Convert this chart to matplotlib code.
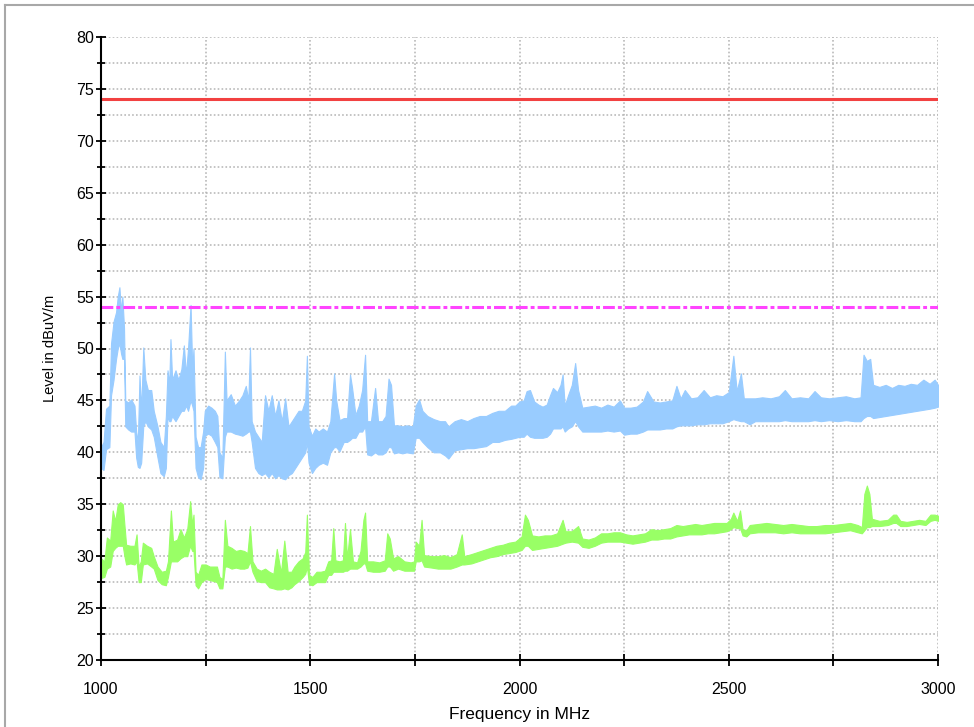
import matplotlib
matplotlib.use('Agg')
import matplotlib.pyplot as plt
from matplotlib.lines import Line2D
from matplotlib.ticker import MultipleLocator
import numpy as np

plt.rcParams['font.family'] = ['Liberation Sans', 'DejaVu Sans']
plt.rcParams['lines.scale_dashes'] = False

BLUE = '#99ccff'
GREEN = '#99ff66'
RED = '#f24141'
MAGENTA = '#ff44ff'
GRID = '#b4b4b4'

# limits (dBuV/m)
limit_peak = 74.0
limit_avg = 54.0

# peak trace, read as lower / upper envelope of the noisy band
peak_freq = [
    1000, 1006, 1012, 1020, 1024, 1030, 1036, 1040, 1044, 1048, 1051, 1055, 1058, 1065, 1072,
    1080, 1084, 1088, 1092, 1096, 1101, 1106, 1112, 1120, 1126, 1135, 1142, 1150, 1155, 1159,
    1163, 1166, 1170, 1178, 1185, 1192, 1198, 1203, 1208, 1214, 1218, 1221, 1226, 1232, 1238,
    1244, 1248, 1256, 1264, 1272, 1278, 1283, 1290, 1296, 1300, 1310, 1320, 1330, 1338, 1346,
    1352, 1356, 1360, 1368, 1376, 1384, 1392, 1400, 1408, 1416, 1424, 1432, 1440, 1448, 1456,
    1464, 1472, 1480, 1488, 1492, 1496, 1504, 1512, 1520, 1530, 1540, 1548, 1557, 1562, 1570,
    1580, 1588, 1595, 1600, 1608, 1616, 1624, 1631, 1636, 1645, 1655, 1662, 1672, 1680, 1687,
    1693, 1700, 1710, 1720, 1730, 1745, 1752, 1760, 1768, 1780, 1795, 1810, 1822, 1830, 1845,
    1860, 1875, 1890, 1905, 1920, 1935, 1950, 1965, 1980, 1990, 2000, 2010, 2017, 2025, 2035,
    2045, 2055, 2065, 2073, 2080, 2090, 2098, 2103, 2108, 2116, 2125, 2133, 2140, 2150, 2165,
    2180, 2195, 2210, 2225, 2240, 2250, 2265, 2280, 2295, 2305, 2320, 2335, 2350, 2365, 2375,
    2385, 2395, 2410, 2425, 2440, 2455, 2470, 2485, 2500, 2511, 2519, 2529, 2536, 2550, 2563,
    2580, 2600, 2620, 2634, 2650, 2670, 2690, 2705, 2720, 2740, 2760, 2780, 2800, 2815, 2822,
    2830, 2838, 2845, 2860, 2875, 2890, 2905, 2920, 2935, 2950, 2965, 2980, 2992, 3000]
peak_lo = [
    38.5, 38.3, 40.3, 40.5, 45.5, 47.0, 49.0, 50.0, 50.5, 49.5, 49.0, 49.0, 42.5, 42.2, 42.0,
    42.0, 39.5, 38.6, 38.5, 39.0, 42.5, 43.0, 42.5, 42.2, 41.5, 39.5, 38.0, 37.7, 38.5, 43.5,
    43.0, 43.0, 43.5, 43.0, 43.5, 44.0, 44.0, 44.5, 44.0, 45.0, 44.5, 44.0, 38.5, 37.6, 37.4,
    38.5, 41.6, 41.8, 41.6, 41.0, 40.5, 37.6, 37.5, 41.5, 42.0, 42.0, 41.8, 41.7, 41.6, 41.8,
    42.0, 42.0, 41.0, 38.5, 38.0, 37.8, 38.0, 37.6, 38.0, 37.5, 37.8, 37.5, 37.4, 37.8, 38.0,
    38.5, 39.0, 39.5, 40.0, 41.0, 39.0, 38.0, 38.5, 38.8, 39.0, 38.8, 40.0, 40.5, 40.5, 40.1,
    41.0, 41.0, 41.2, 41.4, 41.4, 42.0, 42.0, 42.5, 39.8, 39.7, 40.0, 39.8, 39.8, 40.0, 40.5,
    40.5, 39.9, 40.0, 39.9, 40.0, 39.9, 41.4, 41.4, 41.0, 40.5, 40.0, 40.0, 39.7, 39.4, 40.2,
    40.3, 40.4, 40.4, 40.5, 40.6, 41.0, 41.0, 41.2, 41.3, 41.4, 41.5, 41.5, 41.8, 41.5, 41.4,
    41.4, 41.4, 41.5, 41.8, 42.3, 42.3, 42.3, 42.5, 42.0, 42.3, 42.5, 43.0, 42.5, 42.0, 42.0,
    42.0, 42.0, 42.1, 42.0, 42.1, 41.7, 41.8, 41.8, 42.0, 42.2, 42.2, 42.2, 42.3, 42.3, 42.5,
    42.6, 42.6, 42.6, 42.7, 42.7, 42.8, 42.8, 42.8, 43.0, 43.2, 43.1, 43.0, 43.0, 42.7, 43.0,
    43.0, 43.0, 43.0, 43.1, 43.0, 43.0, 43.0, 43.1, 43.0, 43.1, 43.0, 43.1, 43.0, 43.0, 43.3,
    43.5, 43.5, 43.3, 43.4, 43.5, 43.6, 43.7, 43.8, 43.9, 44.0, 44.1, 44.2, 44.3, 44.4]
peak_hi = [
    40.5, 41.0, 44.2, 44.5, 50.5, 52.6, 53.5, 55.0, 55.9, 53.5, 55.0, 52.0, 45.0, 44.8, 45.1,
    44.5, 42.0, 41.0, 47.4, 44.0, 50.1, 47.0, 46.0, 46.0, 44.0, 42.5, 41.0, 40.5, 43.5, 47.9,
    46.5, 50.9, 47.0, 47.9, 47.0, 48.0, 50.3, 47.5, 50.0, 54.2, 48.0, 50.0, 41.5, 40.5, 40.5,
    42.0, 44.0, 44.5, 44.3, 44.0, 43.5, 40.0, 39.5, 49.7, 45.0, 45.6, 44.5, 45.0, 45.5, 46.4,
    45.0, 50.1, 43.0, 42.0, 41.5, 41.0, 45.5, 44.0, 45.5, 43.5, 45.0, 43.0, 45.2, 42.5, 43.0,
    43.5, 44.0, 44.0, 45.0, 49.3, 42.5, 41.6, 42.3, 42.0, 42.3, 42.0, 43.0, 47.6, 45.0, 43.1,
    43.3, 43.3, 47.5, 46.2, 43.6, 44.5, 46.0, 49.4, 43.0, 43.0, 46.2, 43.0, 43.0, 43.5, 47.1,
    46.5, 42.6, 42.6, 42.5, 42.6, 42.5, 44.5, 45.1, 44.0, 43.5, 43.2, 43.0, 43.0, 42.5, 43.0,
    43.2, 43.0, 43.3, 43.5, 43.5, 43.8, 44.0, 44.0, 44.5, 44.5, 44.9, 45.0, 45.9, 46.0, 44.9,
    44.6, 44.4, 44.6, 45.5, 46.2, 45.8, 46.5, 47.5, 44.5, 45.5, 46.5, 48.6, 46.0, 44.3, 44.4,
    44.5, 44.3, 44.6, 44.4, 45.0, 44.3, 44.3, 44.4, 44.9, 45.9, 44.9, 44.8, 44.9, 45.0, 46.4,
    45.2, 46.0, 45.2, 45.3, 46.0, 45.3, 45.5, 45.4, 45.8, 49.3, 45.9, 47.6, 45.2, 45.2, 45.2,
    45.3, 45.2, 45.4, 46.0, 45.2, 45.3, 45.2, 45.9, 45.3, 45.2, 45.3, 45.4, 45.2, 45.3, 49.4,
    48.8, 49.0, 46.5, 46.3, 46.5, 46.2, 46.5, 46.4, 46.6, 46.5, 47.0, 46.6, 47.0, 46.5]

# average trace, lower / upper envelope
avg_freq = [
    1000, 1008, 1014, 1022, 1028, 1034, 1040, 1046, 1052, 1056, 1060, 1070, 1080, 1085, 1090,
    1095, 1100, 1110, 1120, 1126, 1135, 1145, 1155, 1160, 1167, 1172, 1182, 1190, 1198, 1206,
    1213, 1218, 1221, 1226, 1232, 1240, 1250, 1260, 1270, 1277, 1283, 1290, 1296, 1302, 1312,
    1322, 1332, 1342, 1350, 1356, 1362, 1372, 1382, 1392, 1402, 1412, 1420, 1430, 1438, 1446,
    1455, 1462, 1472, 1482, 1488, 1492, 1497, 1505, 1515, 1525, 1535, 1543, 1550, 1555, 1560,
    1570, 1578, 1583, 1588, 1595, 1602, 1612, 1620, 1627, 1631, 1636, 1650, 1665, 1678, 1684,
    1690, 1698, 1710, 1725, 1740, 1748, 1752, 1760, 1766, 1772, 1790, 1805, 1820, 1835, 1850,
    1862, 1868, 1885, 1900, 1915, 1930, 1945, 1960, 1975, 1990, 2005, 2013, 2020, 2030, 2045,
    2060, 2075, 2090, 2103, 2110, 2125, 2140, 2150, 2165, 2180, 2195, 2210, 2225, 2240, 2255,
    2270, 2285, 2300, 2315, 2330, 2345, 2360, 2375, 2390, 2405, 2420, 2435, 2450, 2465, 2480,
    2495, 2505, 2511, 2520, 2527, 2533, 2542, 2550, 2570, 2590, 2610, 2630, 2650, 2670, 2690,
    2710, 2730, 2750, 2770, 2790, 2808, 2818, 2824, 2830, 2836, 2842, 2860, 2880, 2893, 2900,
    2910, 2925, 2940, 2955, 2970, 2982, 2992, 3000]
avg_lo = [
    27.9, 28.0, 28.8, 29.0, 30.5, 30.8, 31.0, 31.0, 31.0, 30.0, 29.2, 29.3, 29.2, 29.5, 27.5,
    27.5, 29.2, 29.3, 29.0, 28.8, 27.7, 27.3, 27.2, 28.0, 29.5, 29.5, 29.5, 29.8, 30.0, 30.0,
    31.0, 30.5, 30.5, 27.2, 26.9, 27.5, 27.8, 27.7, 27.6, 27.5, 26.9, 26.9, 29.0, 29.0, 28.8,
    28.9, 28.8, 28.8, 28.9, 29.5, 28.5, 27.6, 27.5, 27.5, 27.0, 26.9, 26.8, 26.8, 26.9, 26.8,
    27.0, 27.3, 27.6, 28.0, 28.3, 29.0, 27.3, 27.2, 27.5, 27.5, 27.5, 28.2, 28.2, 28.5, 28.5,
    28.5, 28.5, 28.6, 28.6, 28.8, 28.8, 28.8, 29.0, 29.3, 29.3, 28.6, 28.5, 28.5, 28.6, 29.0,
    29.0, 28.6, 28.8, 28.6, 28.6, 28.6, 29.5, 29.5, 29.6, 29.0, 28.9, 28.8, 28.8, 28.8, 29.0,
    29.2, 29.2, 29.3, 29.5, 29.7, 29.9, 30.0, 30.2, 30.3, 30.4, 30.6, 31.0, 31.0, 30.6, 30.7,
    30.8, 30.9, 31.0, 31.2, 31.3, 31.4, 31.3, 30.9, 30.8, 31.0, 31.3, 31.4, 31.4, 31.4, 31.3,
    31.2, 31.3, 31.4, 31.6, 31.6, 31.7, 31.7, 31.9, 32.0, 32.1, 32.1, 32.1, 32.2, 32.2, 32.3,
    32.4, 32.6, 32.8, 32.7, 32.7, 32.0, 31.9, 32.2, 32.3, 32.3, 32.3, 32.2, 32.3, 32.2, 32.2,
    32.2, 32.2, 32.3, 32.4, 32.5, 32.3, 32.2, 32.5, 32.8, 32.8, 32.9, 32.9, 33.0, 33.2, 33.2,
    32.9, 32.9, 33.0, 33.1, 33.0, 33.4, 33.5, 33.4]
avg_hi = [
    29.8, 29.5, 31.8, 31.5, 34.4, 33.4, 35.0, 35.2, 35.0, 33.0, 31.1, 31.0, 31.0, 32.1, 29.0,
    29.5, 31.3, 31.0, 30.8, 30.0, 29.0, 28.5, 28.6, 29.5, 34.4, 31.4, 31.6, 32.6, 31.8, 32.6,
    35.3, 33.0, 34.0, 28.5, 28.2, 29.2, 29.2, 29.0, 29.0, 29.0, 28.0, 27.8, 33.5, 31.0, 30.8,
    30.5, 30.6, 30.5, 30.3, 32.9, 29.5, 28.8, 28.6, 28.8, 28.5, 28.3, 30.7, 28.4, 31.5, 28.5,
    28.5, 29.0, 29.5, 29.8, 30.4, 34.0, 28.2, 28.0, 28.5, 28.5, 28.6, 29.5, 29.6, 32.7, 29.6,
    29.5, 29.6, 33.2, 29.8, 32.6, 29.5, 29.4, 30.5, 33.5, 34.2, 29.5, 29.5, 29.4, 29.6, 32.2,
    31.7, 29.8, 30.0, 29.5, 29.4, 29.5, 31.4, 31.0, 33.5, 30.1, 30.0, 30.0, 30.1, 29.9, 30.2,
    32.1, 30.0, 30.2, 30.4, 30.6, 30.8, 31.0, 31.1, 31.3, 31.4, 31.9, 34.0, 33.5, 32.0, 31.9,
    32.0, 32.0, 32.2, 33.5, 32.4, 32.4, 32.9, 31.7, 31.6, 31.8, 32.2, 32.2, 32.3, 32.3, 32.1,
    32.0, 32.1, 32.2, 32.6, 32.5, 32.6, 32.7, 33.0, 32.9, 33.0, 33.1, 33.0, 33.1, 33.2, 33.2,
    33.2, 33.6, 34.2, 33.4, 34.4, 32.6, 32.5, 33.0, 33.1, 33.2, 33.1, 33.0, 33.1, 33.0, 32.9,
    32.9, 33.0, 33.0, 33.1, 33.2, 33.0, 32.8, 36.0, 36.8, 36.0, 33.6, 33.4, 33.5, 34.0, 34.0,
    33.4, 33.3, 33.4, 33.5, 33.4, 34.0, 34.0, 33.9]

fig = plt.figure(figsize=(9.74, 7.27), dpi=100)
ax = fig.add_axes([101 / 974, 67 / 727, 837 / 974, 623 / 727])

ax.fill_between(peak_freq, peak_lo, peak_hi, color=BLUE, lw=0.8, zorder=3)
ax.fill_between(avg_freq, avg_lo, avg_hi, color=GREEN, lw=0.8, zorder=3)
ax.axhline(limit_peak, color=RED, lw=2.2, zorder=4)
ax.axhline(limit_avg, color=MAGENTA, lw=2.2, ls=(0, (8.5, 2.2, 2.8, 2.2)), zorder=4)

ax.set_xlim(1000, 3000)
ax.set_ylim(20, 80)
ax.xaxis.set_major_locator(MultipleLocator(500))
ax.xaxis.set_minor_locator(MultipleLocator(250))
ax.yaxis.set_major_locator(MultipleLocator(5))
ax.yaxis.set_minor_locator(MultipleLocator(2.5))

ax.grid(True, which='both', color=GRID, ls=(0, (1.2, 1.6)), lw=1.1, zorder=1)
for s in ['top', 'right']:
    ax.spines[s].set_visible(False)
for s in ['left', 'bottom']:
    ax.spines[s].set_linewidth(1.5)
    ax.spines[s].set_zorder(5)

ax.tick_params(axis='y', which='major', direction='inout', length=7, width=1.3,
               labelsize=11.5, pad=1.5)
ax.tick_params(axis='y', which='minor', direction='inout', length=6, width=1.3)
ax.tick_params(axis='x', which='both', direction='inout', length=9, width=1.3,
               labelsize=11.5, pad=11)

ax.set_xlabel('Frequency in MHz', fontsize=12.5)
ax.xaxis.set_label_coords(0.5, -0.075)
ax.set_ylabel('Level in dBuV/m', fontsize=10.5)
ax.yaxis.set_label_coords(-0.052, 0.5)

# outer frame of the exported screenshot
fig.add_artist(Line2D([4.5 / 974, 4.5 / 974], [0, 1 - 4.5 / 727], color='#a8a8a8',
                      lw=1.5, transform=fig.transFigure))
fig.add_artist(Line2D([4.5 / 974, 1], [1 - 4.5 / 727, 1 - 4.5 / 727], color='#a8a8a8',
                      lw=1.5, transform=fig.transFigure))

fig.savefig('out.png', dpi=100, facecolor='white')
